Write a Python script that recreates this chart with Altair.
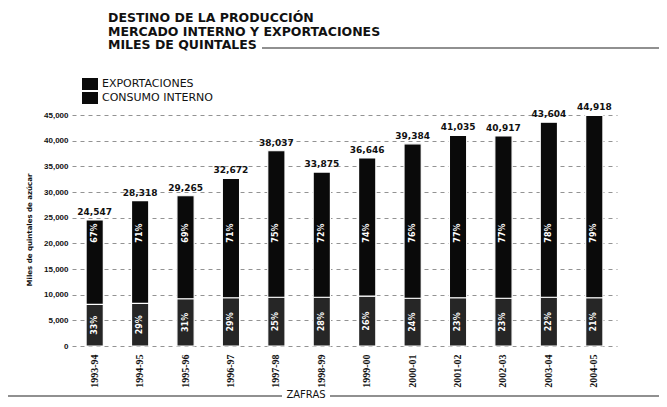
import altair as alt
import pandas as pd

zafras = ["1993-94", "1994-95", "1995-96", "1996-97", "1997-98", "1998-99",
          "1999-00", "2000-01", "2001-02", "2002-03", "2003-04", "2004-05"]
totales = [24547, 28318, 29265, 32672, 38037, 33875, 36646, 39384, 41035, 40917, 43604, 44918]
consumo = [8100, 8300, 9200, 9400, 9500, 9500, 9700, 9300, 9400, 9300, 9500, 9400]
exportaciones = [16447, 20018, 20065, 23272, 28537, 24375, 26946, 30084, 31635, 31617, 34104, 35518]
pct_exp = ["67%", "71%", "69%", "71%", "75%", "72%", "74%", "76%", "77%", "77%", "78%", "79%"]
pct_con = ["33%", "29%", "31%", "29%", "25%", "28%", "26%", "24%", "23%", "23%", "22%", "21%"]
y_ticks = [0, 5000, 10000, 15000, 20000, 25000, 30000, 35000, 40000, 45000]

wide = pd.DataFrame({"zafra": zafras, "total": totales, "consumo": consumo,
                     "exportaciones": exportaciones, "pe": pct_exp, "pc": pct_con})
rows = []
for z, c, e in zip(zafras, consumo, exportaciones):
    rows.append({"zafra": z, "serie": "CONSUMO INTERNO", "valor": c, "orden": 0})
    rows.append({"zafra": z, "serie": "EXPORTACIONES", "valor": e, "orden": 1})
long = pd.DataFrame(rows)

FONT = "DejaVu Sans"
xaxis = alt.Axis(labelAngle=270, labelFontSize=10, labelFont="Liberation Sans Narrow",
                 labelColor="#111", labelPadding=8, ticks=False, domain=False,
                 labelFontWeight="bold", title=None)
yaxis = alt.Axis(values=y_ticks, labelExpr="format(datum.value, ',')", labelFontSize=8,
                 labelFontWeight="bold",
                 labelColor="#111", labelPadding=4, ticks=False, domain=False,
                 grid=True, gridDash=[4, 4], gridColor="#777", gridWidth=0.8, title=None)
xscale = alt.Scale(paddingInner=0.62, paddingOuter=0.31)
yscale = alt.Scale(domain=[0, 45000], nice=False)


def xenc():
    return alt.X("zafra:N", sort=zafras, title=None, scale=xscale, axis=xaxis)


bars = alt.Chart(long).mark_bar(stroke="white", strokeWidth=1.2).encode(
    x=xenc(),
    y=alt.Y("valor:Q", stack="zero", scale=yscale, title=None, axis=yaxis),
    color=alt.Color("serie:N", legend=None,
                    scale=alt.Scale(domain=["CONSUMO INTERNO", "EXPORTACIONES"],
                                    range=["#262626", "#0a0a0a"])),
    order=alt.Order("orden:Q"),
)

base_w = alt.Chart(wide)
totals = base_w.mark_text(baseline="bottom", dy=-3, fontSize=9, fontWeight="bold",
                          font=FONT, color="#111").encode(
    x=xenc(), y=alt.Y("total:Q", scale=yscale, title=None, axis=yaxis),
    text=alt.Text("total:Q", format=","))

pe_text = base_w.transform_calculate(pos="22000").mark_text(
    angle=270, fontSize=8, fontWeight="bold", font=FONT, color="white").encode(
    x=xenc(), y=alt.Y("pos:Q", scale=yscale, title=None, axis=yaxis), text="pe:N")

pc_text = base_w.transform_calculate(pos="datum.consumo / 2").mark_text(
    angle=270, fontSize=8, fontWeight="bold", font=FONT, color="white").encode(
    x=xenc(), y=alt.Y("pos:Q", scale=yscale, title=None, axis=yaxis), text="pc:N")

# decorations (title, legend, axis title, footer)
title_texts = ["DESTINO DE LA PRODUCCIÓN", "MERCADO INTERNO Y EXPORTACIONES", "MILES DE QUINTALES"]
title_lines = []
for i, t in enumerate(title_texts):
    title_lines.append(alt.Chart(pd.DataFrame({"t": [t]})).mark_text(
        align="left", baseline="middle", fontSize=12.5, fontWeight="bold", font=FONT,
        color="#111").encode(x=alt.value(36), y=alt.value(-97 + 13.5 * i), text="t:N"))

title_rule = alt.Chart(pd.DataFrame({"a": [0]})).mark_rule(color="#222", strokeWidth=1.2).encode(
    x=alt.value(190), x2=alt.value(600), y=alt.value(-67))

legend_labels = ["EXPORTACIONES", "CONSUMO INTERNO"]
legend_layers = []
for i, lab in enumerate(legend_labels):
    legend_layers.append(alt.Chart(pd.DataFrame({"t": [lab]})).mark_rect(color="#0a0a0a").encode(
        x=alt.value(10), x2=alt.value(26), y=alt.value(-37 + 14 * i), y2=alt.value(-25 + 14 * i)))
    legend_layers.append(alt.Chart(pd.DataFrame({"t": [lab]})).mark_text(
        align="left", baseline="middle", fontSize=11, font=FONT, color="#111").encode(
        x=alt.value(30), y=alt.value(-31 + 14 * i), text="t:N"))

ytitle = alt.Chart(pd.DataFrame({"t": ["Miles de quintales de azúcar"]})).mark_text(
    angle=270, fontSize=7, fontWeight="bold", font=FONT, color="#111").encode(
    x=alt.value(-42), y=alt.value(115), text="t:N")

footer = alt.Chart(pd.DataFrame({"t": ["ZAFRAS"]})).mark_text(
    fontSize=10, font=FONT, color="#111", baseline="middle").encode(
    x=alt.value(234), y=alt.value(280), text="t:N")
frule1 = alt.Chart(pd.DataFrame({"a": [0]})).mark_rule(color="#222", strokeWidth=1.2).encode(
    x=alt.value(-72), x2=alt.value(210), y=alt.value(281))
frule2 = alt.Chart(pd.DataFrame({"a": [0]})).mark_rule(color="#222", strokeWidth=1.2).encode(
    x=alt.value(258), x2=alt.value(600), y=alt.value(281))

chart = alt.layer(bars, totals, pe_text, pc_text, *title_lines, title_rule, *legend_layers,
                  ytitle, footer, frule1, frule2).properties(
    width=545, height=231,
    background="white",
    autosize=alt.AutoSizeParams(type="none"),
    padding={"left": 64, "top": 107, "right": 42, "bottom": 53},
).configure_view(stroke=None)

chart.save("out.html", embed_options={"renderer": "svg", "actions": False})
